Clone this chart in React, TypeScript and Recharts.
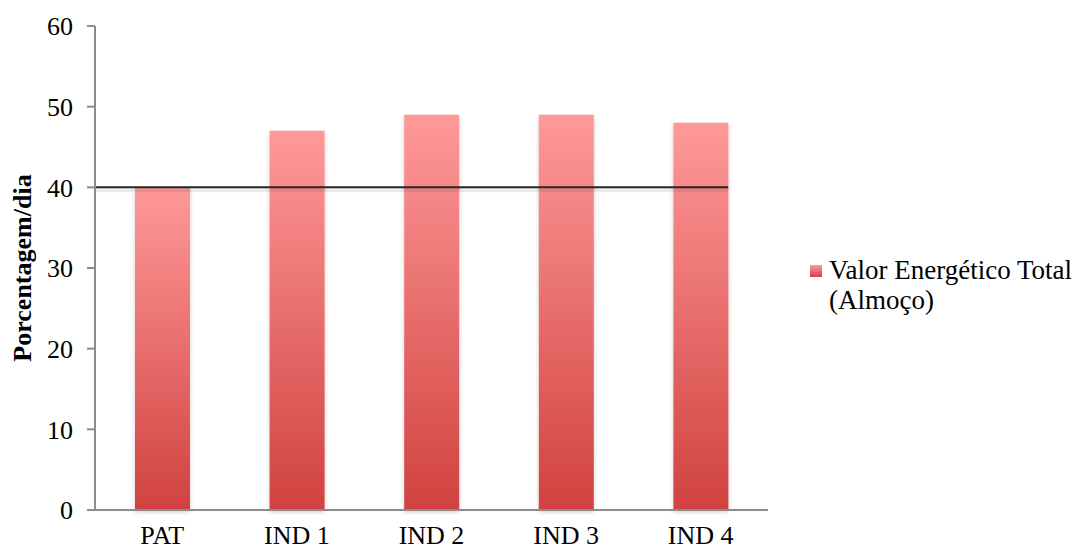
import React from 'react';
import {
  BarChart,
  Bar,
  XAxis,
  YAxis,
  ReferenceLine,
} from 'recharts';

const categories = ['PAT', 'IND 1', 'IND 2', 'IND 3', 'IND 4'];
const energyValues = [40, 47, 49, 49, 48];
const yTicks = [0, 10, 20, 30, 40, 50, 60];
const referenceValue = 40;
const seriesName = 'Valor Energético Total';
const seriesNameLine2 = '(Almoço)';

const chartData = categories.map((name, i) => ({ name, value: energyValues[i] }));

const WIDTH = 1076;
const HEIGHT = 551;
const MARGIN = { top: 26, right: 308, left: 0, bottom: 0 };
const Y_AXIS_WIDTH = 95;
const X_AXIS_HEIGHT = 41;
const BAR_SIZE = 55;
const FONT = 'Liberation Serif, Times New Roman, serif';
const FONT_SIZE = 26;

// line stops at the right edge of the last bar, like the original
const RefLineShape = (props: any) => {
  const { x1, x2, y1 } = props;
  const band = (x2 - x1) / categories.length;
  const gap = (band - BAR_SIZE) / 2;
  const end = x2 - gap;
  return (
    <g>
      <line x1={x1} x2={end} y1={y1 + 3} y2={y1 + 3} stroke="#000" strokeOpacity={0.08} strokeWidth={4} />
      <line x1={x1} x2={end} y1={y1} y2={y1} stroke="#262626" strokeWidth={2} />
    </g>
  );
};

const LegendBox = () => (
  <div
    style={{
      position: 'absolute',
      left: 810,
      top: 255,
      fontFamily: FONT,
      fontSize: 27,
      lineHeight: '30px',
      color: '#000',
      display: 'flex',
      alignItems: 'flex-start',
    }}
  >
    <div
      style={{
        width: 12,
        height: 12,
        marginTop: 10,
        marginRight: 7,
        background: 'linear-gradient(#ff9999, #d0423f)',
      }}
    />
    <div>
      <div>{seriesName}</div>
      <div>{seriesNameLine2}</div>
    </div>
  </div>
);

export default function App() {
  return (
    <div style={{ position: 'absolute', left: 0, top: 0, width: WIDTH, height: HEIGHT, background: '#fff' }}>
      <BarChart width={WIDTH} height={HEIGHT} data={chartData} margin={MARGIN} barCategoryGap={0}>
        <defs>
          <linearGradient id="barFill" x1="0" y1="0" x2="0" y2="1">
            <stop offset="0%" stopColor="#ff9999" />
            <stop offset="100%" stopColor="#d0423f" />
          </linearGradient>
          <filter id="softShadow" x="-20%" y="-20%" width="140%" height="140%">
            <feDropShadow dx="0" dy="2" stdDeviation="2" floodColor="#000" floodOpacity="0.2" />
          </filter>
        </defs>
        <XAxis
          dataKey="name"
          height={X_AXIS_HEIGHT}
          tickLine={false}
          axisLine={{ stroke: '#8c8c8c', strokeWidth: 2 }}
          tick={{ fill: '#000', fontSize: FONT_SIZE, fontFamily: FONT }}
          tickMargin={10}
          interval={0}
        />
        <YAxis
          width={Y_AXIS_WIDTH}
          domain={[0, 60]}
          ticks={yTicks}
          axisLine={{ stroke: '#8c8c8c', strokeWidth: 2 }}
          tickLine={{ stroke: '#8c8c8c', strokeWidth: 2 }}
          tickSize={8}
          tickMargin={14}
          tick={{ fill: '#000', fontSize: FONT_SIZE, fontFamily: FONT }}
          label={{
            value: 'Porcentagem/dia',
            angle: -90,
            position: 'insideLeft',
            offset: 22,
            style: { textAnchor: 'middle', fontSize: 26, fontWeight: 'bold', fontFamily: FONT, fill: '#000' },
          }}
        />
        <Bar
          dataKey="value"
          barSize={BAR_SIZE}
          fill="url(#barFill)"
          filter="url(#softShadow)"
          isAnimationActive={false}
        />
        <ReferenceLine y={referenceValue} shape={RefLineShape} />
      </BarChart>
      <LegendBox />
    </div>
  );
}
